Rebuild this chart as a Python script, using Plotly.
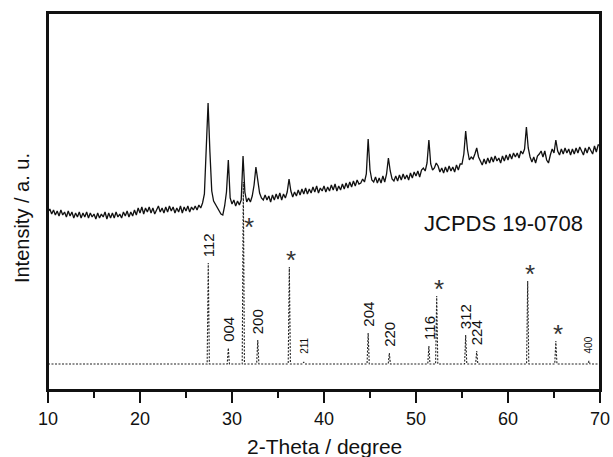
import numpy as np
import plotly.graph_objects as go

# ---------------- data ----------------
# measured XRD scan, 2-theta from 10 to 70 deg in 0.2 deg steps (a.u.)
two_theta = np.round(np.arange(10, 70.001, 0.2), 1)
intensity = [
    178, 181, 176, 180, 175,  # 10
    179, 174, 180, 175, 178,  # 11
    173, 179, 174, 178, 172,  # 12
    177, 173, 178, 172, 177,  # 13
    173, 178, 172, 177, 173,  # 14
    176, 171, 177, 172, 176,  # 15
    173, 178, 171, 177, 172,  # 16
    177, 172, 178, 173, 176,  # 17
    172, 178, 174, 179, 173,  # 18
    178, 174, 180, 175, 182,  # 19
    177, 183, 176, 182, 178,  # 20
    183, 177, 182, 176, 181,  # 21
    184, 178, 182, 177, 183,  # 22
    178, 184, 179, 183, 177,  # 23
    182, 178, 184, 177, 183,  # 24
    179, 184, 178, 183, 180,  # 25
    184, 180, 185, 182, 187,  # 26
    196, 236, 287, 238, 199,  # 27
    189, 186, 182, 180, 176,  # 28
    175, 184, 198, 230, 192,  # 29
    186, 190, 184, 189, 185,  # 30
    190, 234, 198, 188, 192,  # 31
    188, 194, 205, 223, 210,  # 32
    197, 192, 190, 195, 190,  # 33
    194, 188, 195, 190, 196,  # 34
    191, 197, 190, 196, 192,  # 35
    198, 211, 199, 193, 198,  # 36
    194, 200, 195, 201, 196,  # 37
    202, 196, 201, 197, 203,  # 38
    198, 204, 197, 202, 199,  # 39
    204, 198, 203, 199, 205,  # 40
    200, 206, 199, 204, 200,  # 41
    206, 201, 207, 202, 208,  # 42
    203, 209, 204, 210, 206,  # 43
    207, 211, 208, 216, 251,  # 44
    220, 210, 208, 213, 207,  # 45
    212, 207, 214, 208, 216,  # 46
    232, 219, 211, 209, 214,  # 47
    209, 215, 210, 216, 211,  # 48
    215, 210, 217, 212, 218,  # 49
    214, 219, 213, 220, 222,  # 50
    219, 227, 250, 226, 220,  # 51
    222, 227, 224, 218, 222,  # 52
    217, 223, 218, 224, 219,  # 53
    223, 218, 225, 220, 226,  # 54
    226, 236, 259, 240, 230,  # 55
    233, 231, 236, 242, 233,  # 56
    228, 225, 231, 226, 232,  # 57
    227, 233, 228, 234, 229,  # 58
    232, 227, 234, 229, 235,  # 59
    230, 236, 231, 237, 233,  # 60
    237, 232, 239, 236, 241,  # 61
    263, 242, 233, 228, 233,  # 62
    227, 234, 236, 239, 233,  # 63
    239, 230, 227, 235, 241,  # 64
    237, 250, 239, 235, 241,  # 65
    236, 242, 237, 241, 235,  # 66
    241, 236, 242, 237, 243,  # 67
    238, 235, 242, 237, 243,  # 68
    239, 236, 244, 238, 245,  # 69
    245,                      # 70
]

# JCPDS 19-0708 reference pattern (stick positions / relative heights)
ref_pos = [27.42, 29.60, 31.23, 32.80, 36.23, 37.80, 44.80, 47.10,
           51.40, 52.25, 55.40, 56.60, 62.14, 65.20, 68.80]
ref_height = [101, 16, 182, 24, 97, 2, 31, 11, 18, 68, 29, 13, 83, 23, 3]
ref_label = ["112", "004", "*", "200", "*", "211", "204", "220",
             "116", "*", "312", "224", "*", "*", "400"]
ref_base = 26
ref_name = "JCPDS 19-0708"

FONT = "Liberation Sans, Arial"
INK = "#111111"

# ---------------- figure ----------------
fig = go.Figure()

fig.add_trace(go.Scatter(
    x=two_theta, y=intensity, mode="lines",
    line=dict(color=INK, width=1.3), showlegend=False,
))

# stick pattern as a dotted baseline with narrow spikes
sx, sy = [10], [ref_base]
for p, h in zip(ref_pos, ref_height):
    sx += [p - 0.12, p, p + 0.12]
    sy += [ref_base, ref_base + h, ref_base]
sx.append(70)
sy.append(ref_base)
fig.add_trace(go.Scatter(
    x=sx, y=sy, mode="lines",
    line=dict(color="#222222", width=1.1, dash="2px,1.5px"),
    showlegend=False,
))

annotations = []
for p, h, lab in zip(ref_pos, ref_height, ref_label):
    top = ref_base + h
    if lab == "*":
        star_font = dict(size=26, color="#333333", family=FONT)
        if h > 150:
            annotations.append(dict(x=p, y=163, text="*", showarrow=False,
                                    xanchor="center", yanchor="middle", xshift=6,
                                    font=star_font))
        else:
            annotations.append(dict(x=p, y=top, text="*", showarrow=False,
                                    xanchor="center", yanchor="middle", xshift=2, yshift=7,
                                    font=star_font))
    else:
        small = h < 5
        annotations.append(dict(x=p, y=top, text=lab, showarrow=False, textangle=-90,
                                xanchor="center", yanchor="bottom", yshift=4 if not small else 6,
                                font=dict(size=10 if small else 15, color=INK, family=FONT)))

annotations.append(dict(x=0.973, xref="paper", y=167, yref="y", text=ref_name,
                        showarrow=False, xanchor="right", yanchor="middle",
                        font=dict(size=22, color=INK, family=FONT)))
# axis titles
annotations.append(dict(x=0.5, xref="paper", y=0, yref="paper", yshift=-56,
                        text="2-Theta / degree", showarrow=False,
                        xanchor="center", yanchor="middle",
                        font=dict(size=21, color=INK, family=FONT)))
annotations.append(dict(x=0, xref="paper", xshift=-26, y=0.456, yref="paper",
                        text="Intensity / a. u.", showarrow=False, textangle=-90,
                        xanchor="center", yanchor="middle",
                        font=dict(size=20, color=INK, family=FONT)))

fig.update_layout(
    width=613, height=457,
    margin=dict(l=48, r=13, t=13, b=67),
    paper_bgcolor="white", plot_bgcolor="white",
    font=dict(family=FONT, color=INK),
    annotations=annotations,
    shapes=[dict(type="rect", xref="paper", yref="paper", x0=0, x1=1, y0=0, y1=1,
                 line=dict(color=INK, width=2), layer="above")],
    xaxis=dict(
        range=[10, 70], dtick=10, tick0=10, automargin=False,
        showline=True, linecolor=INK, linewidth=2, mirror=True,
        ticks="outside", ticklen=11, tickwidth=2, tickcolor=INK,
        minor=dict(dtick=5, ticks="outside", ticklen=6, tickwidth=2, tickcolor=INK),
        showgrid=False, zeroline=False,
        tickfont=dict(size=18),
    ),
    yaxis=dict(
        range=[0, 377], automargin=False,
        showline=True, linecolor=INK, linewidth=2, mirror=True,
        ticks="", showticklabels=False, showgrid=False, zeroline=False,
    ),
)

fig.write_html("out.html",
               config={"displayModeBar": False},
               post_script="document.body.style.margin='0';document.body.style.overflow='hidden';")
